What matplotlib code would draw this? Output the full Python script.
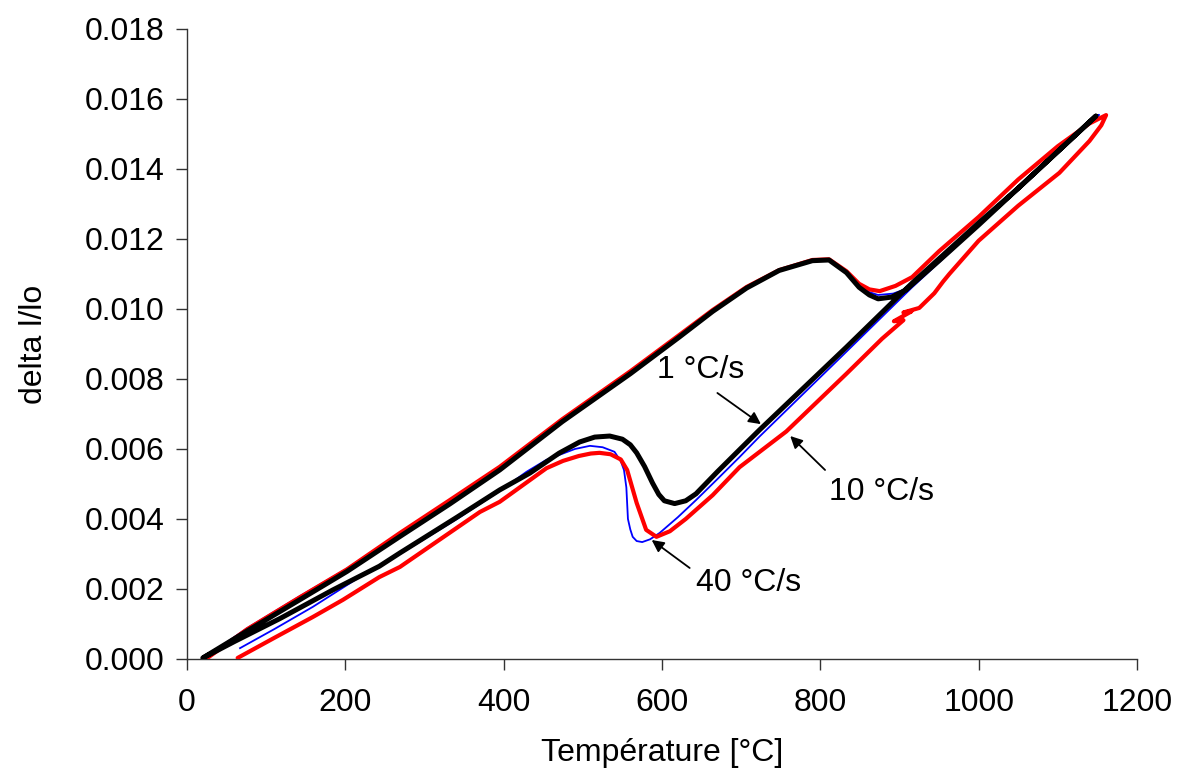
import matplotlib
matplotlib.use("Agg")
import matplotlib.pyplot as plt
from matplotlib.ticker import FormatStrFormatter, MultipleLocator

plt.rcParams['font.family'] = ['Liberation Sans', 'DejaVu Sans']

# ---- data: 1 °C/s (black) ----
bk_heat_T = [20, 76, 143, 202, 269, 332, 395, 474, 560, 622, 664, 707, 748, 790, 811, 833, 849, 862, 873, 890, 908, 950, 1000, 1050, 1100, 1148]
bk_heat_v = [0.00003, 0.00080, 0.00170, 0.00250, 0.00350, 0.00443, 0.00540, 0.00678, 0.00815, 0.00920, 0.00993, 0.01060, 0.01110, 0.01138, 0.01140, 0.01104, 0.01062, 0.01040, 0.01029, 0.01034, 0.01054, 0.01138, 0.01240, 0.01345, 0.01450, 0.01551]
bk_cool_T = [1148, 1100, 1050, 1000, 916, 833, 723, 698, 670, 643, 630, 616, 603, 596, 588, 578, 568, 560, 550, 534, 515, 496, 470, 433, 395, 341, 269, 243, 184, 117, 60, 22]
bk_cool_v = [0.01551, 0.01450, 0.01345, 0.01246, 0.01074, 0.00891, 0.00654, 0.00598, 0.00535, 0.00472, 0.00452, 0.00444, 0.00452, 0.00470, 0.00503, 0.00550, 0.00589, 0.00612, 0.00628, 0.00637, 0.00634, 0.00620, 0.00588, 0.00531, 0.00483, 0.00405, 0.00303, 0.00265, 0.00197, 0.00115, 0.00050, 0.00005]

# ---- data: 10 °C/s (red) ----
rd_heat_T = [24, 76, 143, 202, 269, 332, 395, 474, 560, 622, 664, 707, 748, 790, 811, 833, 849, 862, 875, 895, 916, 950, 1000, 1050, 1100, 1140, 1161]
rd_heat_v = [0.00000, 0.00085, 0.00177, 0.00256, 0.00360, 0.00454, 0.00549, 0.00685, 0.00822, 0.00926, 0.00997, 0.01063, 0.01111, 0.01140, 0.01142, 0.01108, 0.01072, 0.01056, 0.01051, 0.01066, 0.01091, 0.01165, 0.01263, 0.01370, 0.01465, 0.01530, 0.01554]
rd_cool_T = [1161, 1155, 1140, 1102, 1050, 1000, 963, 955, 944, 925, 905, 915, 893, 905, 878, 833, 757, 698, 664, 630, 610, 593, 580, 568, 556, 548, 535, 521, 510, 495, 475, 454, 395, 370, 269, 243, 197, 159, 110, 64]
rd_cool_v = [0.01554, 0.01525, 0.01480, 0.01389, 0.01295, 0.01195, 0.01100, 0.01078, 0.01045, 0.01003, 0.00990, 0.00993, 0.00965, 0.00968, 0.00915, 0.00815, 0.00650, 0.00548, 0.00468, 0.00400, 0.00365, 0.00349, 0.00369, 0.00446, 0.00540, 0.00570, 0.00585, 0.00589, 0.00587, 0.00580, 0.00566, 0.00545, 0.00449, 0.00420, 0.00263, 0.00234, 0.00169, 0.00120, 0.00060, 0.00003]

# ---- data: 40 °C/s (blue) ----
bl_heat_T = [22, 76, 143, 202, 269, 332, 395, 474, 560, 622, 664, 707, 748, 790, 811, 833, 849, 862, 873, 892, 912, 950, 1000, 1050, 1100, 1152]
bl_heat_v = [0.00003, 0.00088, 0.00180, 0.00258, 0.00360, 0.00454, 0.00549, 0.00685, 0.00822, 0.00926, 0.00995, 0.01062, 0.01110, 0.01139, 0.01141, 0.01106, 0.01066, 0.01048, 0.01040, 0.01044, 0.01060, 0.01138, 0.01240, 0.01345, 0.01450, 0.01555]
bl_cool_T = [1152, 1100, 1050, 1000, 916, 833, 723, 698, 670, 643, 620, 597, 585, 575, 568, 563, 560, 557, 555, 552, 548, 540, 525, 509, 490, 454, 429, 395, 341, 269, 218, 159, 110, 67]
bl_cool_v = [0.01555, 0.01445, 0.01340, 0.01238, 0.01062, 0.00878, 0.00635, 0.00577, 0.00514, 0.00454, 0.00405, 0.00360, 0.00342, 0.00334, 0.00337, 0.00349, 0.00370, 0.00400, 0.00490, 0.00540, 0.00565, 0.00592, 0.00605, 0.00609, 0.00600, 0.00569, 0.00535, 0.00480, 0.00400, 0.00300, 0.00234, 0.00149, 0.00085, 0.00031]

# ---- annotations ----
labels = ['1 °C/s', '10 °C/s', '40 °C/s']
label_xy = [(649, 0.00826), (877, 0.00477), (710, 0.00217)]
arrow_tail = [(670, 0.00760), (806, 0.00540), (635, 0.00260)]
arrow_head = [(725, 0.00671), (762, 0.00637), (587, 0.00340)]

fig = plt.figure(figsize=(11.82, 7.73), dpi=100)
ax = fig.add_axes([0.1582, 0.1475, 0.8037, 0.8150])

ax.plot(bl_heat_T + bl_cool_T, bl_heat_v + bl_cool_v, color='#0000FF', lw=1.3, zorder=2)
ax.plot(rd_heat_T + rd_cool_T, rd_heat_v + rd_cool_v, color='#FF0000', lw=3.0, zorder=3,
        solid_joinstyle='round', solid_capstyle='round')
ax.plot(bk_heat_T + bk_cool_T, bk_heat_v + bk_cool_v, color='black', lw=3.6, zorder=4,
        solid_joinstyle='round', solid_capstyle='round')

for txt, pos, tail, head in zip(labels, label_xy, arrow_tail, arrow_head):
    ax.text(pos[0], pos[1], txt, fontsize=23, ha='center', va='center', zorder=6)
    ax.annotate('', xy=head, xytext=tail,
                arrowprops=dict(arrowstyle='-|>', color='black', lw=1.3,
                                mutation_scale=18, shrinkA=0, shrinkB=0), zorder=6)

ax.set_xlim(0, 1200)
ax.set_ylim(0, 0.018)
ax.xaxis.set_major_locator(MultipleLocator(200))
ax.yaxis.set_major_locator(MultipleLocator(0.002))
ax.yaxis.set_major_formatter(FormatStrFormatter('%.3f'))
for s in ['top', 'right']:
    ax.spines[s].set_visible(False)
for s in ['left', 'bottom']:
    ax.spines[s].set_color('#333333')
    ax.spines[s].set_linewidth(1.0)
ax.tick_params(axis='both', direction='out', length=8, width=1.0, color='#333333',
               labelsize=23)
ax.tick_params(axis='x', pad=13)
ax.tick_params(axis='y', pad=8)
ax.set_xlabel('Température [°C]', fontsize=23, labelpad=14)
ax.set_ylabel('delta l/lo', fontsize=23, labelpad=26)

fig.savefig('out.png', dpi=100)
